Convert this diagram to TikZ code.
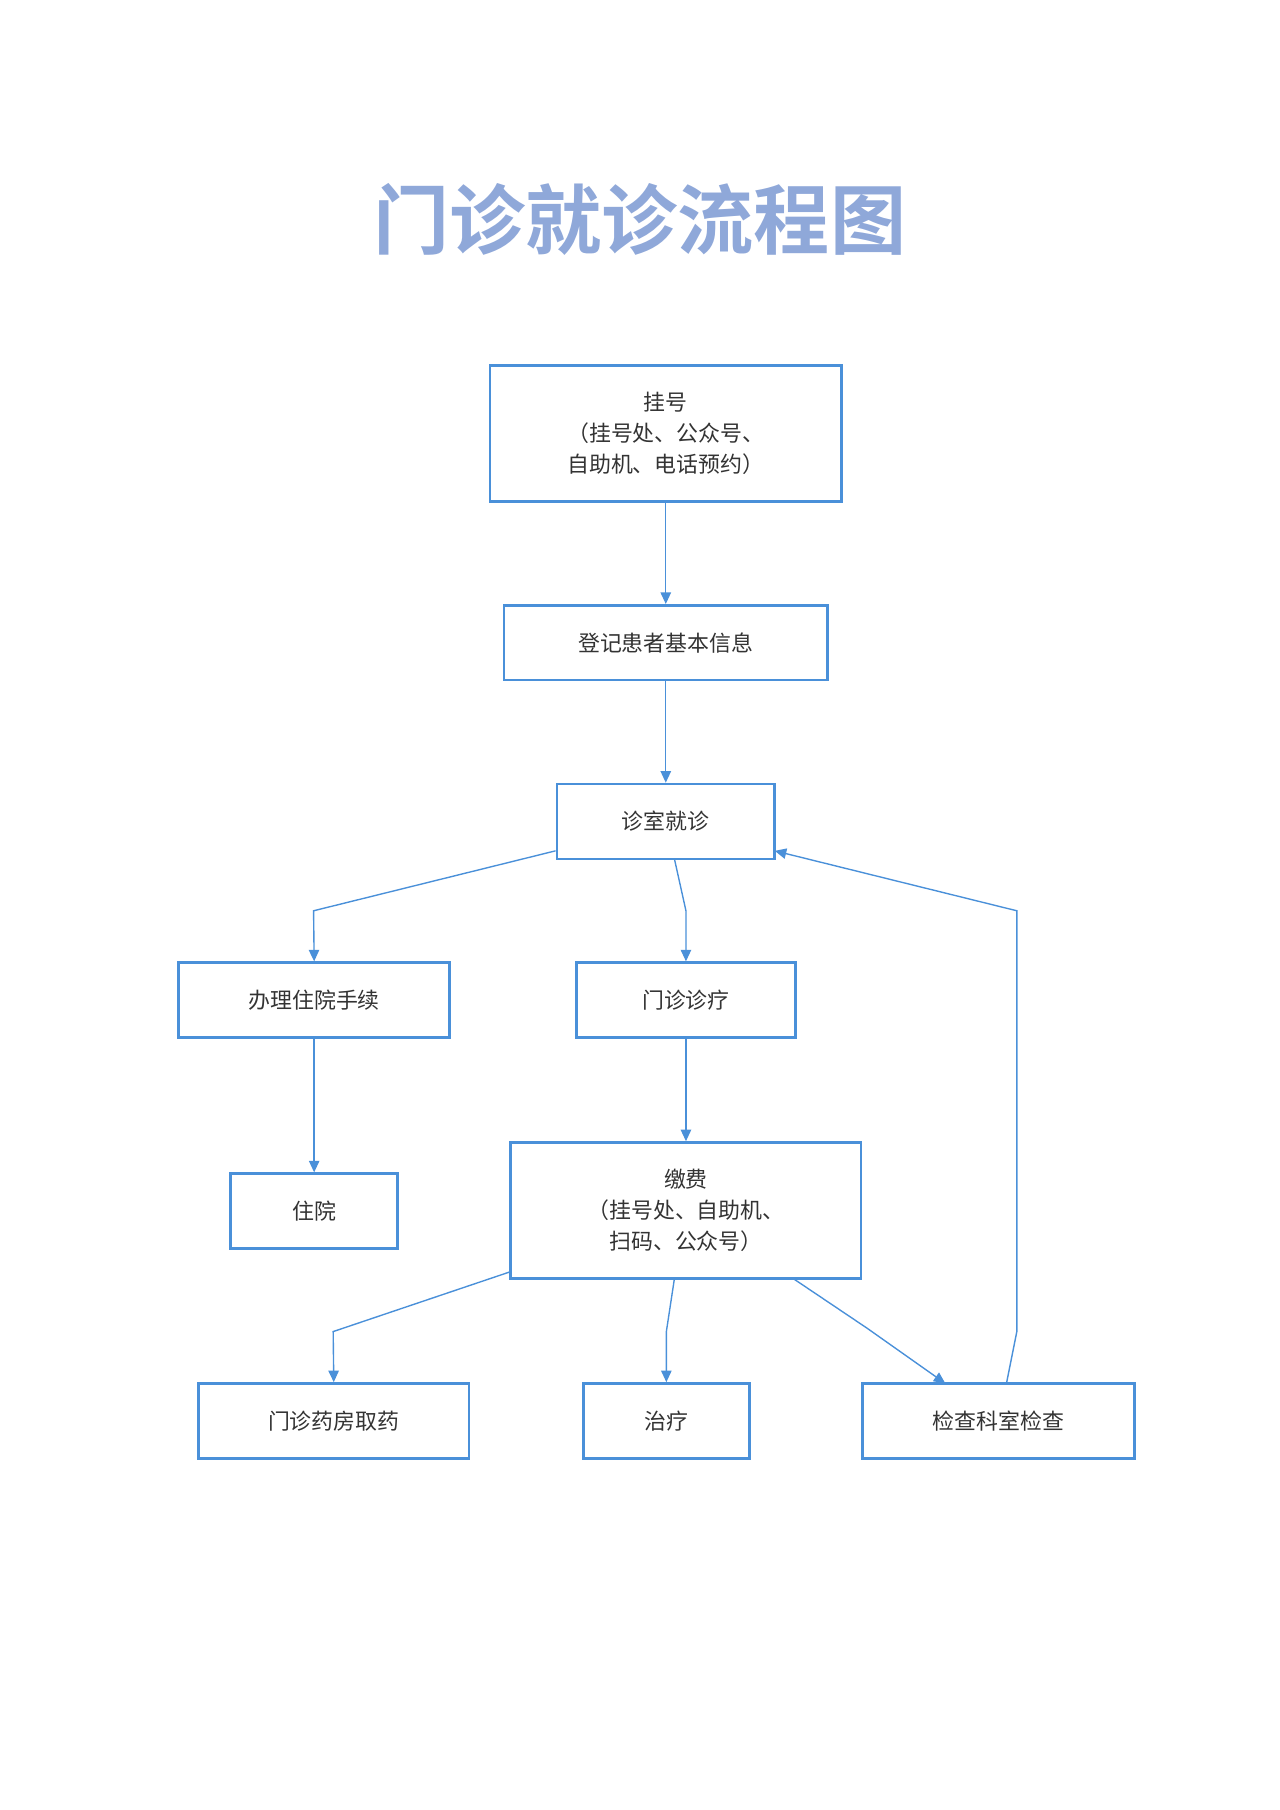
\documentclass[tikz,border=0pt]{standalone}
\usepackage{fontspec}
\newfontfamily\cjk{Noto Sans CJK SC}
\newfontfamily\cjkb{Noto Sans CJK SC Bold}
\usetikzlibrary{arrows.meta}
\definecolor{bl}{HTML}{4A90D9}
\definecolor{tt}{HTML}{8FA8D9}
\begin{document}
\begin{tikzpicture}[x=0.5pt,y=-0.5pt,
  box/.style={draw=bl,line width=1.1pt,inner sep=0pt,align=center,
     font=\cjk\fontsize{9.5}{13.5}\selectfont,text=black!80},
  ar/.style={draw=bl,line width=0.6pt,-{Triangle[length=5pt,width=4.5pt]}}]
\useasboundingbox (0,0) rectangle (1110,1570);
\node[font=\cjkb\fontsize{33}{36}\selectfont,text=tt] (title) at (555,190) {门诊就诊流程图};
\node[box,minimum width=152.5pt,minimum height=59pt] (a) at (577.5,376) {挂号\\（挂号处、公众号、\\自助机、电话预约）};
\node[box,minimum width=140.5pt,minimum height=32.5pt] (b) at (577.5,557.5) {登记患者基本信息};
\node[box,minimum width=94.5pt,minimum height=32.5pt] (c) at (577.5,712.5) {诊室就诊};
\node[box,minimum width=117.5pt,minimum height=32.5pt] (d) at (272.5,867.5) {办理住院手续};
\node[box,minimum width=95pt,minimum height=32.5pt] (e) at (595,867.5) {门诊诊疗};
\node[box,minimum width=72.5pt,minimum height=32.5pt] (f) at (272.5,1050.5) {住院};
\node[box,minimum width=152pt,minimum height=59pt] (g) at (595,1050) {缴费\\（挂号处、自助机、\\扫码、公众号）};
\node[box,minimum width=117.5pt,minimum height=32.5pt] (h) at (289.5,1232.5) {门诊药房取药};
\node[box,minimum width=72pt,minimum height=32.5pt] (i) at (578,1232.5) {治疗};
\node[box,minimum width=118pt,minimum height=32.5pt] (j) at (866,1232.5) {检查科室检查};
\coordinate (k1) at (272,790);
\coordinate (k2) at (595,790);
\coordinate (k3) at (289,1155);
\coordinate (k4) at (578,1155);
\coordinate (k5) at (752,1152);
\coordinate (k6) at (882,1155);
\coordinate (k7) at (882,790);
\draw[ar] (a) -- (b);
\draw[ar] (b) -- (c);
\draw[ar] (c.south west |- 0,738) -- (k1) -- (d.north);
\draw[ar] (585,745) -- (k2) -- (e.north);
\draw[ar] (e) -- (g);
\draw[ar] (d) -- (f);
\draw[ar] (443,1103) -- (k3) -- (h.north);
\draw[ar] (585,1109) -- (k4) -- (i.north);
\draw[ar] (688,1109) -- (k5) -- (820,1200);
\draw[ar] (873,1200) -- (k6) -- (k7) -- (672,738);
\end{tikzpicture}
\end{document}
